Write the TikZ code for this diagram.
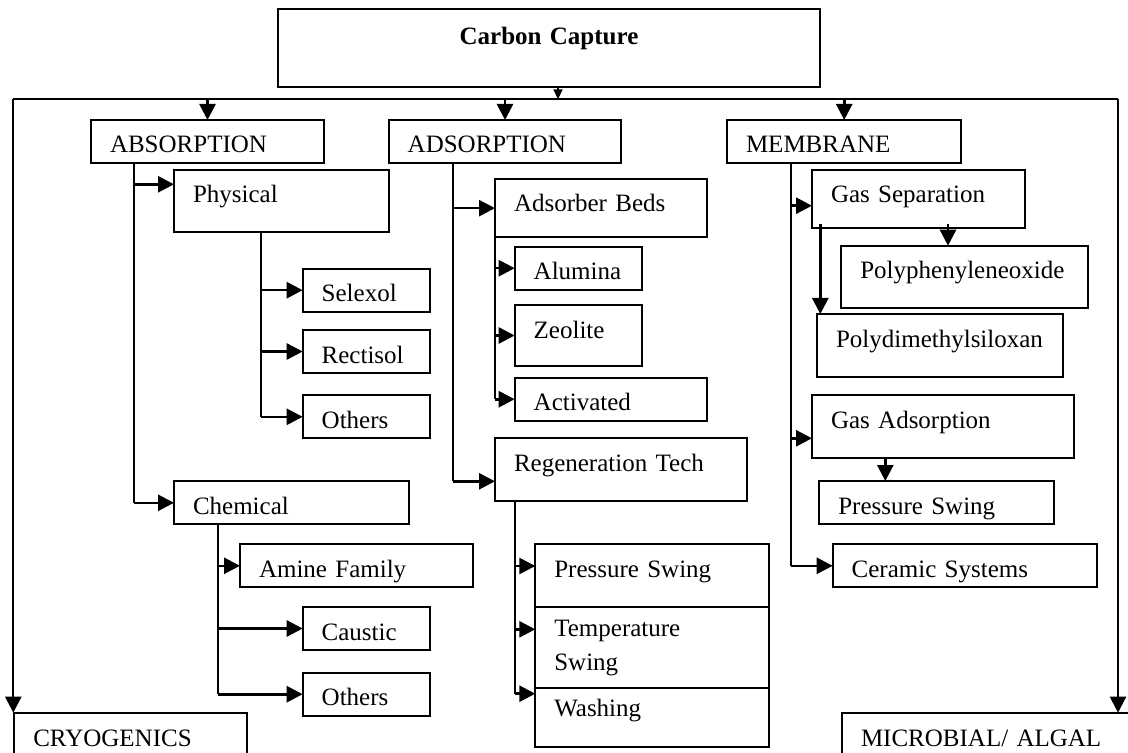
\documentclass[tikz,border=0pt]{standalone}
\usepackage{fontspec}
\setmainfont{Liberation Serif}
\usetikzlibrary{arrows.meta}

\begin{document}
\begin{tikzpicture}[
    x=0.5pt, y=-0.5pt,
    font=\fontsize{12.5pt}{17.2pt}\selectfont,
    block/.style={rectangle, draw, line width=1pt, outer sep=0pt, inner xsep=9.5pt,
        inner ysep=0pt, anchor=north west, align=left, text height=16.5pt, text depth=5pt},
    tallblock/.style={block, text depth=14.75pt},
    midblock/.style={block, text depth=12.65pt},
    title/.style={block, align=center, font=\fontsize{12.5pt}{17.2pt}\selectfont\bfseries,
        text height=17.5pt, text depth=21.2pt},
    trunk/.style={draw, line width=0.9pt},
    arrowstyle/.style={draw, line width=1.3pt, -{Triangle[length=8pt, width=8pt]}},
    smallarrow/.style={draw, line width=0.9pt, -{Triangle[length=5pt, width=4.5pt]}}
]
\useasboundingbox (0,0) rectangle (1128,753);

% top of the tree
\node (Capture) [title, text width=251.7pt] at (278.3,9.3) {Carbon Capture};
\coordinate (BusLeft) at (13.3,99.3);
\coordinate (BusRight) at (1118,99.3);

% main branches
\node (Absorption) [block, text width=97.5pt] at (91,120) {ABSORPTION};
\node (Adsorption) [block, text width=97.3pt] at (388.7,120) {ADSORPTION};
\node (Membrane) [block, text width=98.2pt] at (727,120) {MEMBRANE};
\node (Cryogenics) [block, text width=97.5pt, text height=17pt, text depth=20pt] at (14.3,712.7) {CRYOGENICS};
\node (Microbial) [block, text width=130pt, text height=17pt, text depth=20pt] at (842,712.7) {MICROBIAL/ ALGAL};

% absorption
\node (Physical) [tallblock, text width=88.6pt] at (174,170) {Physical};
\node (Selexol) [block, text width=44.6pt] at (302.7,268.7) {Selexol};
\node (Rectisol) [block, text width=44.6pt] at (302.7,330) {Rectisol};
\node (Others01) [block, text width=44.6pt] at (302.7,395.3) {Others};
\node (Chemical) [block, text width=98.6pt] at (174,481.3) {Chemical};
\node (Amine) [block, text width=97.3pt] at (240,544.3) {Amine Family};
\node (Caustic) [block, text width=44.6pt] at (302.7,607) {Caustic};
\node (Others02) [block, text width=44.6pt] at (302.7,672.7) {Others};

% adsorption
\node (Beds) [midblock, text width=87pt] at (495,179) {Adsorber Beds};
\node (Alumina) [block, text width=44.5pt] at (514.7,246.7) {Alumina};
\node (Zeolite) [tallblock, text width=44.5pt, text depth=14pt] at (514.7,305) {Zeolite};
\node (Activated) [block, text width=77.1pt] at (514.7,377.7) {Activated};
\node (Regeneration) [tallblock, text width=107pt] at (495,438.3) {Regeneration Tech};
\node (PressureSwing01) [tallblock, text width=98pt] at (535.3,544.3) {Pressure Swing};
\node (TemperatureSwing) [block, text width=98pt, text height=14.5pt, text depth=26.15pt] at (535.3,607) {Temperature\\Swing};
\node (Washing) [block, text width=98pt, text height=13.85pt, text depth=15.35pt] at (535.3,688.3) {Washing};

% membrane
\node (GasSeparation) [midblock, text width=87.3pt] at (812,170) {Gas Separation};
\node (Polyphenylene) [tallblock, text width=104.2pt] at (841.3,245.7) {Polyphenyleneoxide};
\node (Polydimethyl) [tallblock, text width=104pt] at (817,314) {Polydimethylsiloxan};
\node (GasAdsorption) [tallblock, text width=112.1pt] at (812,395.3) {Gas Adsorption};
\node (PressureSwing02) [block, text width=98.2pt] at (819.3,481) {Pressure Swing};
\node (Ceramic) [block, text width=113.1pt] at (832.7,544.3) {Ceramic Systems};

% bus
\draw [smallarrow] ([xshift=4.5pt]Capture.south) -- ([xshift=4.5pt]Capture.south |- BusLeft);
\draw [trunk, line width=1pt] (BusLeft) -- (BusRight);
\draw [arrowstyle, line width=1.1pt] (BusLeft) -- (BusLeft |- Cryogenics.north);
\draw [arrowstyle, line width=1.1pt] (BusRight) -- (BusRight |- Microbial.north);
\foreach \n in {Absorption, Adsorption, Membrane}
  \draw [arrowstyle] (\n.north |- BusLeft) -- (\n.north);

% absorption links
\coordinate (AbsTrunk) at ([xshift=21.65pt]Absorption.south west);
\coordinate (Physical-in) at ([yshift=-7.15pt]Physical.north west);
\draw [trunk] (AbsTrunk) -- (AbsTrunk |- Chemical.west);
\draw [arrowstyle] (AbsTrunk |- Physical-in) -- (Physical-in);
\draw [arrowstyle] (AbsTrunk |- Chemical.west) -- (Chemical.west);
\coordinate (PhysTrunk) at ([xshift=43.35pt]Physical.south west);
\draw [trunk] (PhysTrunk) -- (PhysTrunk |- Others01.west);
\foreach \n in {Selexol, Rectisol, Others01}
  \draw [arrowstyle] (PhysTrunk |- \n.west) -- (\n.west);
\coordinate (ChemTrunk) at ([xshift=22.15pt]Chemical.south west);
\draw [trunk] (ChemTrunk) -- (ChemTrunk |- Others02.west);
\foreach \n in {Amine, Caustic, Others02}
  \draw [arrowstyle] (ChemTrunk |- \n.west) -- (\n.west);

% adsorption links
\coordinate (AdsTrunk) at ([xshift=32pt]Adsorption.south west);
\coordinate (Regeneration-in) at ([yshift=-21.5pt]Regeneration.north west);
\draw [trunk] (AdsTrunk) -- (AdsTrunk |- Regeneration-in);
\draw [arrowstyle] (AdsTrunk |- Beds.west) -- (Beds.west);
\draw [arrowstyle] (AdsTrunk |- Regeneration-in) -- (Regeneration-in);
\draw [trunk] (Beds.south west) -- (Beds.south west |- Activated.west);
\foreach \n in {Alumina, Zeolite, Activated}
  \draw [arrowstyle] (Beds.south west |- \n.west) -- (\n.west);
\coordinate (RegTrunk) at ([xshift=10.15pt]Regeneration.south west);
\coordinate (PressureSwing01-in) at ([yshift=-10.85pt]PressureSwing01.north west);
\coordinate (TemperatureSwing-in) at ([yshift=-11.15pt]TemperatureSwing.north west);
\coordinate (Washing-in) at ([yshift=-2.7pt]Washing.north west);
\draw [trunk] (RegTrunk) -- (RegTrunk |- Washing-in);
\foreach \n in {PressureSwing01, TemperatureSwing, Washing}
  \draw [arrowstyle] (RegTrunk |- \n-in) -- (\n-in);

% membrane links
\coordinate (MemTrunk) at ([xshift=31.85pt]Membrane.south west);
\coordinate (GasSeparation-in) at ([yshift=-17.85pt]GasSeparation.north west);
\coordinate (GasAdsorption-in) at ([yshift=-21.5pt]GasAdsorption.north west);
\draw [trunk] (MemTrunk) -- (MemTrunk |- Ceramic.west);
\foreach \n in {GasSeparation-in, GasAdsorption-in, Ceramic.west}
  \draw [arrowstyle] (MemTrunk |- \n) -- (\n);
\coordinate (SepLeft) at ([xshift=4.15pt, yshift=2pt]GasSeparation.south west);
\coordinate (SepRight) at ([xshift=68pt, yshift=2pt]GasSeparation.south west);
\coordinate (AdsDown) at ([xshift=36.65pt]GasAdsorption.south west);
\draw [arrowstyle] (SepLeft) -- (SepLeft |- Polydimethyl.north);
\draw [arrowstyle] (SepRight) -- (SepRight |- Polyphenylene.north);
\draw [arrowstyle] (AdsDown) -- (AdsDown |- PressureSwing02.north);
\end{tikzpicture}
\end{document}
